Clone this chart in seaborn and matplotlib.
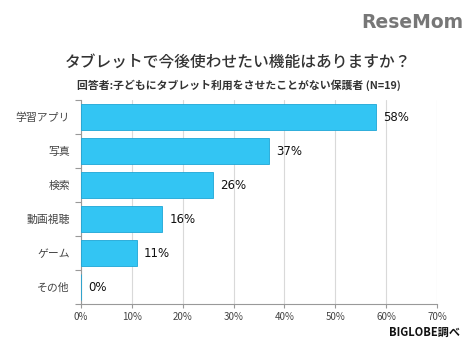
import matplotlib
matplotlib.use("Agg")
import matplotlib.pyplot as plt
import seaborn as sns
import pandas as pd
import numpy as np

categories = ["学習アプリ", "写真", "検索", "動画視聴", "ゲーム", "その他"]
values = [58, 37, 26, 16, 11, 0]
xticks = [0, 10, 20, 30, 40, 50, 60, 70]
xtick_labels = [f"{v}%" for v in xticks]

sns.set_theme(style="white")
plt.rcParams['font.family'] = ['Noto Sans CJK JP', 'DejaVu Sans']

df = pd.DataFrame({"cat": categories, "val": values})

fig = plt.figure(figsize=(4.77, 3.5), dpi=100)
ax = fig.add_axes([0.17, 0.131, 0.746, 0.583])

sns.barplot(data=df, x="val", y="cat", orient="h", color="#33C5F3",
            edgecolor="#1EA6D6", linewidth=0.6, width=0.77, saturation=1, ax=ax, zorder=3)

ax.set_xlim(0, 70)
ax.set_ylim(5.5, -0.5)
ax.set_xticks(xticks)
ax.set_xticklabels(xtick_labels, fontsize=7, color="#444444")
ax.set_xlabel("")
ax.set_ylabel("")
ax.tick_params(axis="y", which="major", left=False, length=0, labelsize=7.8,
               labelcolor="#444444", pad=8)
ax.tick_params(axis="x", bottom=True, length=3, width=0.8, color="#999999",
               direction="out", pad=3)
ax.set_yticks(np.arange(-0.5, 6, 1), minor=True)
ax.tick_params(axis="y", which="minor", left=True, length=4, width=0.8,
               color="#999999", direction="out")

ax.grid(axis="x", color="#D9D9D9", linewidth=0.8, zorder=0)
for s in ["top", "right"]:
    ax.spines[s].set_visible(False)
for s in ["left", "bottom"]:
    ax.spines[s].set_color("#999999")
    ax.spines[s].set_linewidth(0.8)

for i, v in enumerate(values):
    ax.text(v + 1.4, i, f"{v}%", va="center", ha="left", fontsize=8.5, color="#111111",
            family=['DejaVu Sans'])

fig.text(0.5, 0.823, "タブレットで今後使わせたい機能はありますか？", ha="center", va="center",
         fontsize=11.3, color="#333333", fontweight="medium")
fig.text(0.5, 0.757, "回答者:子どもにタブレット利用をさせたことがない保護者 (N=19)", ha="center",
         va="center", fontsize=7.8, color="#333333", fontweight="bold")
fig.text(0.972, 0.935, "ReseMom", ha="right", va="center", fontsize=13.5, color="#777777",
         fontweight="bold", family=['DejaVu Sans'])
fig.text(0.964, 0.05, "BIGLOBE調べ", ha="right", va="center", fontsize=8,
         color="#111111", fontweight="bold")

fig.savefig("out.png", dpi=100, facecolor="white")
